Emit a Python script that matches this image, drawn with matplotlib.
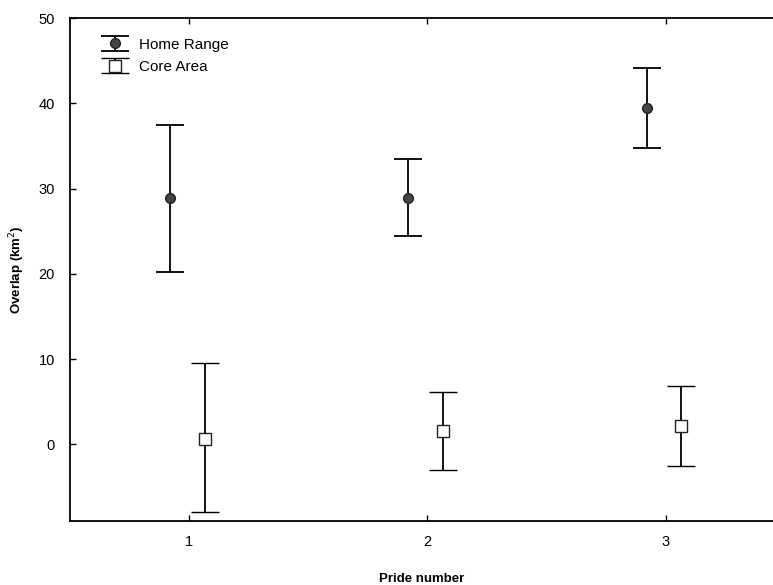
import matplotlib
matplotlib.use("Agg")
import matplotlib.pyplot as plt
import numpy as np

plt.rcParams['font.family'] = ['Liberation Sans', 'DejaVu Sans']

# pride number and overlap values (km2)
prides = np.array([1, 2, 3])
home_mean = [28.9, 28.9, 39.5]
home_low = [20.2, 24.4, 34.7]
home_high = [37.5, 33.5, 44.1]
core_mean = [0.6, 1.5, 2.1]
core_low = [-7.9, -3.0, -2.6]
core_high = [9.5, 6.1, 6.8]

fig = plt.figure(figsize=(7.73, 5.85), dpi=100)
ax = fig.add_axes([0.0906, 0.1094, 0.9094, 0.8598])

hm = np.array(home_mean)
cm = np.array(core_mean)
ax.errorbar(prides - 0.08, hm, yerr=[hm - home_low, np.array(home_high) - hm],
            fmt='o', color='black', mfc='#444444', mec='#222222', ms=7,
            capsize=10, elinewidth=1.3, capthick=1.3, label='Home Range')
ax.errorbar(prides + 0.065, cm, yerr=[cm - core_low, np.array(core_high) - cm],
            fmt='s', color='black', mfc='white', mec='#222222', ms=8, mew=1.0,
            capsize=10, elinewidth=1.3, capthick=1.3, label='Core Area')

ax.set_xlim(0.5, 3.45)
ax.set_ylim(-9, 50)
ax.set_xticks([1, 2, 3])
ax.set_yticks([0, 10, 20, 30, 40, 50])
ax.tick_params(direction='in', length=4, width=1, labelsize=10.5, top=True)
ax.tick_params(axis='x', pad=10)
ax.tick_params(axis='y', pad=11)
ax.spines['right'].set_visible(False)
for s in ['left', 'bottom', 'top']:
    ax.spines[s].set_linewidth(1.3)

ax.set_xlabel('Pride number', fontsize=9.5, fontweight='bold', labelpad=17)
ax.set_ylabel('Overlap (km$^2$)', fontsize=9.5, fontweight='bold', labelpad=8)

ax.legend(loc='upper left', bbox_to_anchor=(0.02, 0.988), frameon=False,
          fontsize=11, handlelength=2.2, handletextpad=0.5, labelspacing=0.55)

fig.savefig('out.png', dpi=100)
